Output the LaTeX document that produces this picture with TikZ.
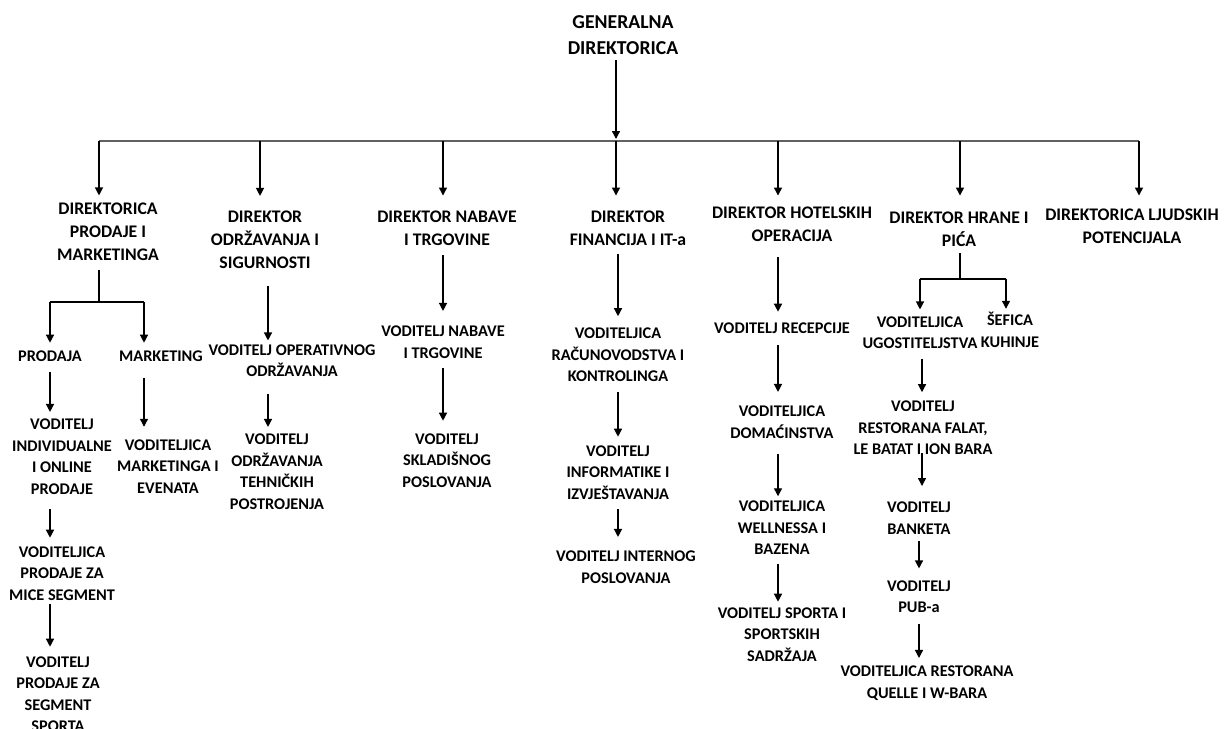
\documentclass[tikz,border=0pt]{standalone}
\usepackage{fontspec}
\setmainfont{Carlito}
\usetikzlibrary{arrows.meta}
\newcommand\lblfont{\bfseries\fontsize{16.3}{21.5}\selectfont}
\newcommand\dirfont{\bfseries\fontsize{17.7}{23.2}\selectfont}
\newcommand\topfont{\bfseries\fontsize{19.7}{26}\selectfont}
\tikzset{
  lbl/.style={font=\lblfont, align=center, inner sep=0pt, text=black},
  dir/.style={lbl, font=\dirfont},
  topbox/.style={lbl, font=\topfont},
  ln/.style={line width=1.3pt, draw=black},
  arr/.style={ln, -{Triangle[width=8pt,length=8pt]}},
  barline/.style={line width=1.8pt, draw=black!62},
}
\begin{document}
\begin{tikzpicture}[x=1pt,y=-1pt]
\useasboundingbox[fill=white] (0,0) rectangle (1225,728);

% nodes
\node[topbox] (top) at (623,35) {GENERALNA\\DIREKTORICA};

\node[dir] (d1) at (108,232) {DIREKTORICA\\PRODAJE I\\MARKETINGA};
\node[dir] (d2) at (265,239.5) {DIREKTOR\\ODRŽAVANJA I\\SIGURNOSTI};
\node[dir] (d3) at (447,228.5) {DIREKTOR NABAVE\\I TRGOVINE};
\node[dir] (d4) at (628,228.5) {DIREKTOR\\FINANCIJA I IT-a};
\node[dir] (d5) at (792,224.5) {DIREKTOR HOTELSKIH\\OPERACIJA};
\node[dir] (d6) at (959,229.5) {DIREKTOR HRANE I\\PIĆA};
\node[dir] (d7) at (1132,226.5) {DIREKTORICA LJUDSKIH\\POTENCIJALA};

\node[lbl] (prodaja) at (50,356) {PRODAJA};
\node[lbl] (marketing) at (161,356) {MARKETING};
\node[lbl] (p1) at (62,456.5) {VODITELJ\\INDIVIDUALNE\\I ONLINE\\PRODAJE};
\node[lbl] (p2) at (62,573.5) {VODITELJICA\\PRODAJE ZA\\MICE SEGMENT};
\node[lbl] (p3) at (58,694.25) {VODITELJ\\PRODAJE ZA\\SEGMENT\\SPORTA};
\node[lbl] (m1) at (168,466.5) {VODITELJICA\\MARKETINGA I\\EVENATA};

\node[lbl] (o1) at (292,360.5) {VODITELJ OPERATIVNOG\\ODRŽAVANJA};
\node[lbl] (o2) at (277,471.5) {VODITELJ\\ODRŽAVANJA\\TEHNIČKIH\\POSTROJENJA};

\node[lbl] (n1) at (443,342) {VODITELJ NABAVE\\I TRGOVINE};
\node[lbl] (n2) at (447,460.5) {VODITELJ\\SKLADIŠNOG\\POSLOVANJA};

\node[lbl] (f1) at (618,355) {VODITELJICA\\RAČUNOVODSTVA I\\KONTROLINGA};
\node[lbl] (f2) at (618,472.5) {VODITELJ\\INFORMATIKE I\\IZVJEŠTAVANJA};
\node[lbl] (f3) at (626,567) {VODITELJ INTERNOG\\POSLOVANJA};

\node[lbl] (h1) at (782,328) {VODITELJ RECEPCIJE};
\node[lbl] (h2) at (782,422) {VODITELJICA\\DOMAĆINSTVA};
\node[lbl] (h3) at (782,528) {VODITELJICA\\WELLNESSA I\\BAZENA};
\node[lbl] (h4) at (782,634.5) {VODITELJ SPORTA I\\SPORTSKIH\\SADRŽAJA};

\node[lbl] (g1) at (920,332.5) {VODITELJICA\\UGOSTITELJSTVA};
\node[lbl] (g2) at (1010,330) {ŠEFICA\\KUHINJE};
\node[lbl] (g3) at (923,428) {VODITELJ\\RESTORANA FALAT,\\LE BATAT I ION BARA};
\node[lbl] (g4) at (919,518) {VODITELJ\\BANKETA};
\node[lbl] (g5) at (919,596.5) {VODITELJ\\PUB-a};
\node[lbl] (g6) at (927,683) {VODITELJICA RESTORANA\\QUELLE I W-BARA};

% bar coordinates
\coordinate (b1) at (99,141);
\coordinate (b2) at (260,141);
\coordinate (b3) at (443,141);
\coordinate (b4) at (616,141);
\coordinate (b5) at (778,141);
\coordinate (b6) at (960,141);
\coordinate (b7) at (1139,141);
% junctions
\coordinate (j1) at (99,302);
\coordinate (j1l) at (50,302);
\coordinate (j1r) at (144,302);
\coordinate (j6) at (960,279);
\coordinate (j6l) at (920,279);
\coordinate (j6r) at (1006,279);
% columns
\coordinate (c2) at (268,0);
\coordinate (c3) at (443,0);
\coordinate (c4) at (618,0);
\coordinate (c5) at (778,0);
\coordinate (c6a) at (922,0);
\coordinate (c6b) at (919,0);

% top
\draw[arr, shorten <=5.7pt, shorten >=2pt] (top.south -| b4) -- (b4);
\draw[barline] (b1) -- (b7);
\draw[arr, shorten >=7.3pt] (b1) -- (d1.north -| b1);
\draw[arr, shorten >=14.3pt] (b2) -- (d2.north -| b2);
\draw[arr, shorten >=15.3pt] (b3) -- (d3.north -| b3);
\draw[arr, shorten >=15.3pt] (b4) -- (d4.north -| b4);
\draw[arr, shorten >=11.3pt] (b5) -- (d5.north -| b5);
\draw[arr, shorten >=16.3pt] (b6) -- (d6.north -| b6);
\draw[arr, shorten >=13.3pt] (b7) -- (d7.north -| b7);

% branch 1
\draw[ln, shorten <=8.3pt] (d1.south -| j1) -- (j1);
\draw[ln] (j1l) -- (j1r);
\draw[arr, shorten >=7.7pt] (j1l) -- (prodaja.north -| j1l);
\draw[arr, shorten >=7.7pt] (j1r) -- (marketing.north -| j1r);
\draw[arr, shorten <=10.7pt, shorten >=6.7pt] (prodaja.south -| j1l) -- (p1.north -| j1l);
\draw[arr, shorten <=14.7pt, shorten >=8.7pt] (p1.south -| j1l) -- (p2.north -| j1l);
\draw[arr, shorten <=3.7pt, shorten >=9.7pt] (p2.south -| j1l) -- (p3.north -| j1l);
\draw[arr, shorten <=16.7pt, shorten >=12.7pt] (marketing.south -| j1r) -- (m1.north -| j1r);

% branch 2
\draw[arr, shorten <=17.3pt, shorten >=3.7pt] (d2.south -| c2) -- (o1.north -| c2);
\draw[arr, shorten <=16.7pt, shorten >=6.7pt] (o1.south -| c2) -- (o2.north -| c2);

% branch 3
\draw[arr, shorten <=9.3pt, shorten >=14.7pt] (d3.south -| c3) -- (n1.north -| c3);
\draw[arr, shorten <=9.7pt, shorten >=12.7pt] (n1.south -| c3) -- (n2.north -| c3);

% branch 4
\draw[arr, shorten <=8.3pt, shorten >=11.7pt] (d4.south -| c4) -- (f1.north -| c4);
\draw[arr, shorten <=9.7pt, shorten >=8.7pt] (f1.south -| c4) -- (f2.north -| c4);
\draw[arr, shorten <=9.7pt, shorten >=13.7pt] (f2.south -| c4) -- (f3.north -| c4);

% branch 5
\draw[arr, shorten <=15.3pt, shorten >=10.7pt] (d5.south -| c5) -- (h1.north -| c5);
\draw[arr, shorten <=11.7pt, shorten >=13.7pt] (h1.south -| c5) -- (h2.north -| c5);
\draw[arr, shorten <=15.7pt, shorten >=4.7pt] (h2.south -| c5) -- (h3.north -| c5);
\draw[arr, shorten <=8.7pt, shorten >=5.7pt] (h3.south -| c5) -- (h4.north -| c5);

% branch 6
\draw[ln, shorten <=6.3pt] (d6.south -| j6) -- (j6);
\draw[ln] (j6l) -- (j6r);
\draw[arr, shorten >=6.7pt] (j6l) -- (g1.north -| j6l);
\draw[arr, shorten >=3.5pt] (j6r) -- (g2.north -| j6r);
\draw[arr, shorten <=9.7pt, shorten >=8.7pt] (g1.south -| c6a) -- (g3.north -| c6a);
\draw[arr, shorten <=-2pt, shorten >=15.7pt] (g3.south -| c6a) -- (g4.north -| c6a);
\draw[arr, shorten <=6.7pt, shorten >=11.7pt] (g4.south -| c6b) -- (g5.north -| c6b);
\draw[arr, shorten <=10.7pt, shorten >=7.7pt] (g5.south -| c6b) -- (g6.north -| c6b);
\end{tikzpicture}
\end{document}
